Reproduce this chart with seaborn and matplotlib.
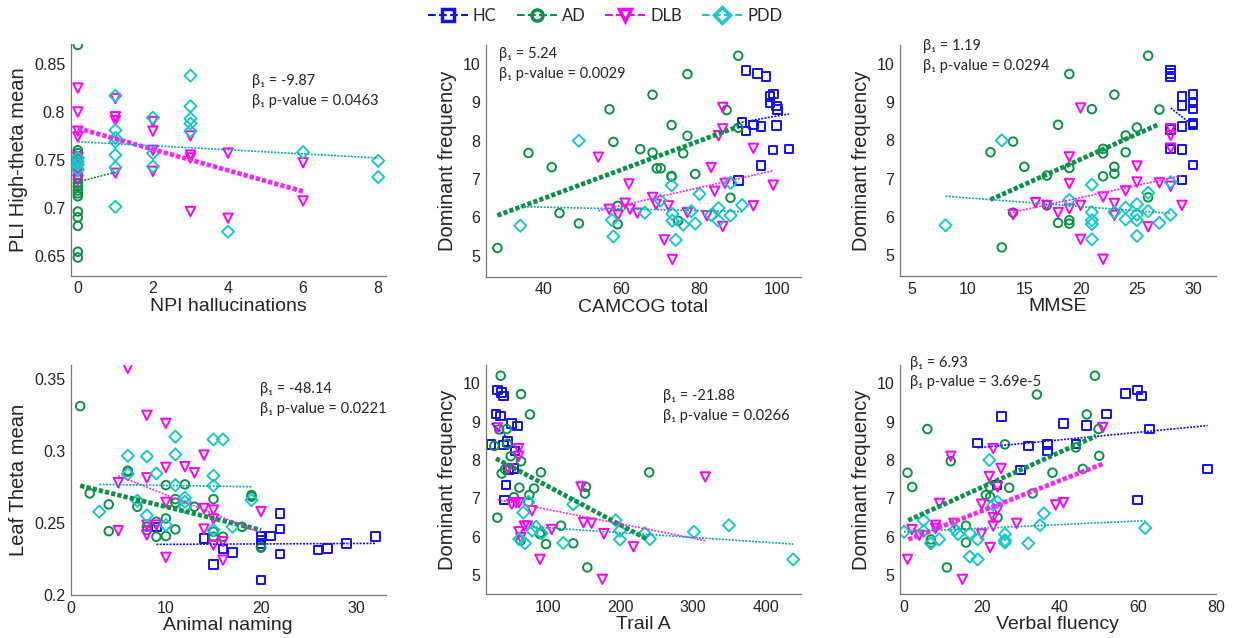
import numpy as np
import matplotlib
matplotlib.use('Agg')
import matplotlib.pyplot as plt
import seaborn as sns
from matplotlib.lines import Line2D

# groups
groups = ['HC', 'AD', 'DLB', 'PDD']
colors = {'HC': '#1010ff', 'AD': '#0a9345', 'DLB': '#ff00ff', 'PDD': '#18c8cc'}
line_colors = {'HC': '#1010ff', 'AD': '#0a9345', 'DLB': '#ff22ff', 'PDD': '#10a8a8'}
markers = {'HC': 's', 'AD': 'o', 'DLB': 'v', 'PDD': 'D'}

# ---- panel 1: NPI hallucinations vs PLI high-theta mean
npi_ad_x = [0] * 20
npi_ad_y = [0.870, 0.760, 0.757, 0.754, 0.750, 0.746, 0.742, 0.738, 0.734, 0.730,
            0.726, 0.722, 0.718, 0.715, 0.712, 0.696, 0.690, 0.681, 0.654, 0.648]
npi_dlb_x = [0, 0, 0, 0, 0, 0, 0, 1, 1, 1, 1, 2, 2, 2, 2, 3, 3, 3, 3, 4, 4, 6, 6]
npi_dlb_y = [0.825, 0.800, 0.780, 0.774, 0.753, 0.740, 0.729, 0.814, 0.795, 0.791, 0.736,
             0.790, 0.780, 0.760, 0.738, 0.775, 0.755, 0.752, 0.696, 0.757, 0.689, 0.747, 0.707]
npi_pdd_x = [0, 0, 0, 0, 1, 1, 1, 1, 1, 1, 1, 2, 2, 2, 3, 3, 3, 3, 3, 4, 6, 8, 8]
npi_pdd_y = [0.752, 0.748, 0.745, 0.740, 0.817, 0.781, 0.773, 0.769, 0.755, 0.742, 0.701,
             0.794, 0.757, 0.743, 0.838, 0.806, 0.793, 0.788, 0.780, 0.675, 0.758, 0.749, 0.732]
# fit lines: x0, x1, y0, y1
npi_fit = {'AD': [0, 1, 0.727, 0.737], 'DLB': [0, 6, 0.783, 0.717], 'PDD': [0, 8, 0.769, 0.752]}
npi_thick = 'DLB'

# ---- panel 2: CAMCOG total vs dominant frequency
cam_hc_x = [92.1, 95.0, 97.2, 98.3, 99.2, 98.3, 100.0, 100.2, 91.1, 92.1, 94.0, 96.0, 100.0, 99.1, 103.2, 96.0, 90.1]
cam_hc_y = [9.83, 9.76, 9.68, 9.15, 9.22, 8.98, 8.91, 8.82, 8.47, 8.26, 8.41, 8.37, 8.40, 7.76, 7.78, 7.36, 6.96]
cam_ad_x = [90.1, 77.0, 68.0, 56.9, 87.1, 72.9, 90.1, 57.9, 77.0, 36.0, 64.8, 68.0, 75.9, 42.0, 69.1, 70.1,
            72.9, 72.9, 79.0, 88.1, 59.0, 44.0, 49.0, 59.0, 74.6, 28.0]
cam_ad_y = [10.22, 9.74, 9.20, 8.82, 8.80, 8.41, 8.34, 7.97, 8.13, 7.68, 7.78, 7.69, 7.67, 7.31, 7.28, 7.28,
            7.08, 7.06, 7.13, 6.51, 6.30, 6.11, 5.84, 5.82, 5.91, 5.20]
cam_dlb_x = [86.1, 86.1, 85.0, 94.0, 54.0, 83.1, 61.9, 86.7, 84.0, 68.0, 68.9, 72.1, 60.9, 62.2, 56.8, 59.1,
             64.1, 77.0, 82.0, 94.0, 99.1, 86.1, 71.0, 73.1]
cam_dlb_y = [8.87, 8.31, 8.13, 7.80, 7.57, 7.30, 6.87, 6.89, 6.68, 6.52, 6.34, 6.30, 6.37, 6.21, 6.21, 6.06,
             6.11, 6.12, 6.04, 6.30, 6.84, 5.76, 5.41, 4.90]
cam_pdd_x = [49.0, 72.9, 88.1, 70.0, 80.1, 66.0, 57.5, 57.9, 73.1, 73.1, 75.9, 78.0, 79.0, 83.1, 85.0, 85.0,
             88.1, 91.1, 74.0, 33.9]
cam_pdd_y = [8.00, 6.84, 6.90, 6.44, 6.61, 6.12, 5.93, 5.50, 6.09, 5.91, 5.81, 6.16, 5.84, 6.06, 6.24, 5.91,
             6.05, 6.32, 5.41, 5.78]
cam_fit = {'HC': [90.1, 103.2, 8.47, 8.70], 'AD': [28.0, 90.1, 6.05, 8.37],
           'DLB': [54.0, 99.1, 6.17, 7.22], 'PDD': [33.9, 91.1, 6.28, 6.15]}
cam_thick = 'AD'

# ---- panel 3: MMSE vs dominant frequency
mmse_hc_x = [28, 28, 28, 29, 29, 30, 30, 30, 29, 30, 30, 28, 28, 29, 30, 29]
mmse_hc_y = [9.85, 9.76, 9.68, 9.15, 8.91, 9.22, 8.98, 8.82, 8.37, 8.46, 8.40, 8.28, 7.78, 7.76, 7.36, 6.96]
mmse_ad_x = [26, 19, 23, 21, 27, 18, 25, 14, 24, 12, 22, 22, 24, 15, 19, 23, 23, 17, 22, 26, 17, 14, 18, 19, 19, 13]
mmse_ad_y = [10.22, 9.74, 9.20, 8.82, 8.81, 8.41, 8.34, 7.97, 8.13, 7.69, 7.78, 7.66, 7.69, 7.31, 7.28, 7.31,
             7.13, 7.08, 7.06, 6.51, 6.30, 6.11, 5.84, 5.91, 5.82, 5.20]
mmse_dlb_x = [20, 28, 28, 28, 19, 25, 19, 27, 28, 24, 25, 22, 23, 17, 16, 20, 19, 18, 14, 23, 29, 26, 20, 22]
mmse_dlb_y = [8.85, 8.31, 8.13, 7.80, 7.57, 7.33, 6.87, 6.89, 6.80, 6.68, 6.91, 6.52, 6.35, 6.30, 6.37, 6.30,
              6.21, 6.11, 6.06, 6.04, 6.30, 5.74, 5.41, 4.89]
mmse_pdd_x = [13, 21, 28, 19, 26, 21, 21, 21, 25, 25, 25, 24, 24, 23, 26, 27, 28, 25, 21, 8]
mmse_pdd_y = [8.00, 6.84, 6.91, 6.44, 6.63, 6.12, 5.91, 5.81, 6.33, 6.06, 5.91, 6.24, 5.93, 6.12, 6.15, 5.84,
              6.05, 5.50, 5.41, 5.78]
mmse_fit = {'HC': [28, 29.7, 8.85, 8.46], 'AD': [12, 27, 6.45, 8.43],
            'DLB': [14, 29, 6.12, 7.08], 'PDD': [8, 28, 6.54, 6.09]}
mmse_thick = 'AD'

# ---- panel 4: Animal naming vs leaf theta mean
an_hc_x = [9, 14, 15, 16, 17, 20, 20, 20, 20, 21, 22, 22, 22, 26, 27, 29, 32]
an_hc_y = [0.2473, 0.2390, 0.2212, 0.2318, 0.2296, 0.2404, 0.2380, 0.2358, 0.2104, 0.2409, 0.2566,
           0.2457, 0.2284, 0.2312, 0.2323, 0.2358, 0.2404]
an_ad_x = [1, 2, 4, 4, 6, 6, 7, 8, 8, 9, 9, 10, 10, 10, 11, 11, 11, 12, 13, 15, 15, 15, 16, 18, 19, 19, 20, 20]
an_ad_y = [0.331, 0.2705, 0.2628, 0.2443, 0.2862, 0.2855, 0.2612, 0.2473, 0.2450, 0.2508, 0.2404, 0.2762,
           0.2531, 0.2409, 0.2665, 0.2640, 0.2455, 0.2767, 0.2612, 0.2665, 0.2439, 0.2404, 0.2404, 0.2473,
           0.2693, 0.2682, 0.2335, 0.2328]
an_dlb_x = [6, 8, 10, 14, 10, 12, 13, 8, 5, 10, 14, 15, 20, 15, 8, 9, 5, 14, 8, 15, 16, 10, 16]
an_dlb_y = [0.3572, 0.3246, 0.3190, 0.2970, 0.2885, 0.2890, 0.2848, 0.2813, 0.2779, 0.2642, 0.2600, 0.2589,
            0.2578, 0.2527, 0.2485, 0.2485, 0.2446, 0.2457, 0.2416, 0.2346, 0.2370, 0.2261, 0.2242]
an_pdd_x = [6, 8, 11, 11, 15, 16, 9, 6, 15, 11, 15, 12, 12, 12, 7, 3, 8, 19, 17, 10, 15]
an_pdd_y = [0.2966, 0.2961, 0.3098, 0.2975, 0.3079, 0.3079, 0.2843, 0.2839, 0.2827, 0.2762, 0.2758, 0.2675,
            0.2647, 0.2612, 0.2654, 0.2578, 0.2552, 0.2658, 0.2473, 0.2485, 0.2450]
an_fit = {'HC': [9, 32.1, 0.2351, 0.2358], 'AD': [1, 20, 0.2758, 0.2450],
          'DLB': [5, 20, 0.2827, 0.2432], 'PDD': [3, 19, 0.2767, 0.2751]}
an_thick = 'AD'

# ---- panel 5: Trail A vs dominant frequency
tr_hc_x = [30.9, 36.8, 39.1, 29.1, 35.5, 50.6, 58.4, 22.2, 39.1, 45.1, 55.1, 46.0, 53.8, 42.8, 40.5]
tr_hc_y = [9.83, 9.76, 9.67, 9.20, 9.15, 8.96, 8.89, 8.41, 8.39, 8.48, 8.24, 7.74, 7.78, 7.35, 6.96]
tr_ad_x = [35.5, 63.4, 75.7, 26.8, 43.7, 33.4, 44.6, 49.2, 63.4, 36.8, 41.4, 90.8, 239.6, 61.1, 81.2, 152.6,
           151.2, 74.8, 53.8, 73.5, 30.9, 118.3, 90.4, 89.5, 97.7, 62.9, 135.2, 154.5]
tr_ad_y = [10.20, 9.72, 9.19, 8.37, 8.81, 8.80, 8.42, 8.10, 7.97, 7.65, 7.76, 7.68, 7.68, 7.28, 7.26, 7.30,
           7.13, 7.09, 7.03, 6.91, 6.50, 6.29, 6.11, 6.07, 5.81, 5.90, 5.83, 5.20]
tr_dlb_x = [30.9, 60.2, 60.2, 46.0, 316.5, 145.8, 50.6, 56.5, 60.6, 78.5, 68.0, 72.1, 149.2, 160.3, 60.6,
            62.9, 105.5, 177.3, 217.8, 89.5, 175.1]
tr_dlb_y = [8.84, 8.30, 8.10, 7.78, 7.56, 7.30, 6.85, 6.89, 6.89, 6.68, 6.28, 6.28, 6.37, 6.35, 6.13,
            5.98, 6.19, 6.08, 5.74, 5.41, 4.89]
tr_pdd_x = [66.6, 73.5, 135.2, 193.4, 199.3, 199.3, 68.9, 79.0, 84.1, 91.8, 121.5, 233.6, 240.5, 300.9,
            349.0, 437.3, 61.1]
tr_pdd_y = [6.63, 6.91, 6.85, 6.43, 6.16, 5.93, 5.83, 6.16, 6.26, 6.09, 5.84, 6.09, 5.94, 6.13, 6.30, 5.41, 5.94]
tr_fit = {'HC': [23.1, 48.3, 8.96, 8.52], 'AD': [29.1, 237.3, 8.04, 5.93],
          'DLB': [30.9, 316.5, 6.97, 5.90], 'PDD': [79.0, 437.3, 6.26, 5.81]}
tr_thick = 'AD'

# ---- panel 6: Verbal fluency vs dominant frequency
vf_hc_x = [52.0, 56.9, 60.0, 61.0, 25.0, 40.9, 46.9, 63.0, 18.9, 31.9, 36.9, 36.9, 44.1, 29.9, 77.9, 23.9, 60.0]
vf_hc_y = [9.20, 9.74, 9.83, 9.67, 9.13, 8.96, 8.90, 8.81, 8.45, 8.37, 8.41, 8.24, 8.42, 7.74, 7.77, 7.35, 6.96]
vf_ad_x = [49.0, 34.1, 46.9, 6.0, 49.9, 25.9, 44.1, 12.0, 50.1, 0.9, 38.1, 45.9, 2.1, 22.0, 27.0, 33.0,
           21.0, 22.1, 24.0, 15.9, 6.9, 6.9, 15.9, 11.0]
vf_ad_y = [10.20, 9.71, 9.19, 8.81, 8.81, 8.41, 8.33, 7.97, 8.11, 7.67, 7.67, 7.77, 7.30, 7.30, 7.28, 7.13,
           7.09, 7.04, 6.50, 6.29, 5.93, 5.85, 5.85, 5.20]
vf_dlb_x = [51.0, 22.9, 12.0, 24.9, 21.9, 24.0, 9.1, 19.9, 38.9, 40.9, 24.0, 22.9, 12.8, 28.9, 22.9, 8.1,
            8.1, 2.0, 3.9, 19.9, 22.1, 0.9, 15.0]
vf_dlb_y = [8.85, 8.30, 8.10, 7.78, 7.57, 7.30, 6.87, 6.85, 6.83, 6.89, 6.70, 6.50, 6.35, 6.35, 6.28, 6.30,
            6.22, 6.19, 6.04, 6.07, 5.72, 5.41, 4.89]
vf_pdd_x = [21.9, 24.0, 22.9, 35.9, 34.9, 0.0, 5.0, 5.0, 13.1, 13.9, 16.9, 25.9, 25.9, 25.9, 18.9, 9.0,
            6.9, 31.9, 16.9, 18.9, 61.9]
vf_pdd_y = [8.00, 6.91, 6.83, 6.61, 6.30, 6.13, 6.43, 6.15, 6.19, 6.07, 6.09, 6.07, 5.91, 5.85, 5.93, 5.93,
            5.83, 5.83, 5.48, 5.41, 6.23]
vf_fit = {'HC': [18.9, 77.9, 8.32, 8.90], 'AD': [1.1, 49.3, 6.43, 8.63],
          'DLB': [1.1, 51.0, 5.93, 7.90], 'PDD': [0.0, 61.9, 6.13, 6.42]}
vf_thick = ['AD', 'DLB']

# annotation texts
beta_texts = ['β₁ = -9.87\nβ₁ p-value = 0.0463', 'β₁ = 5.24\nβ₁ p-value = 0.0029',
              'β₁ = 1.19\nβ₁ p-value = 0.0294', 'β₁ = -48.14\nβ₁ p-value = 0.0221',
              'β₁ = -21.88\nβ₁ p-value = 0.0266', 'β₁ = 6.93\nβ₁ p-value = 3.69e-5']

sns.set_style('white')
plt.rcParams['font.family'] = ['Liberation Sans', 'DejaVu Sans']

W, H = 1238, 638
fig = plt.figure(figsize=(W / 100, H / 100), dpi=100)


def make_ax(x0, x1, y0, y1):
    return fig.add_axes([x0 / W, 1 - y1 / H, (x1 - x0) / W, (y1 - y0) / H])


panels = [
    dict(rect=(70.7, 385.7, 44, 275.7), xlabel='NPI hallucinations', ylabel='PLI High-theta mean',
         data={'AD': (npi_ad_x, npi_ad_y), 'DLB': (npi_dlb_x, npi_dlb_y), 'PDD': (npi_pdd_x, npi_pdd_y)},
         fit=npi_fit, thick=[npi_thick], xlim=(-0.19, 8.2), ylim=(0.629, 0.871),
         xticks=[0, 2, 4, 6, 8], yticks=[0.65, 0.7, 0.75, 0.8, 0.85],
         yfmt=['0.65', '0.7', '0.75', '0.8', '0.85'], txt=(0.575, 0.87, 'left')),
    dict(rect=(486, 800.7, 45, 276.7), xlabel='CAMCOG total', ylabel='Dominant frequency',
         data={'HC': (cam_hc_x, cam_hc_y), 'AD': (cam_ad_x, cam_ad_y), 'DLB': (cam_dlb_x, cam_dlb_y),
               'PDD': (cam_pdd_x, cam_pdd_y)},
         fit=cam_fit, thick=[cam_thick], xlim=(25.05, 106.2), ylim=(4.45, 10.5),
         xticks=[40, 60, 80, 100], yticks=[5, 6, 7, 8, 9, 10], yfmt=None, txt=(0.04, 0.99, 'left')),
    dict(rect=(900, 1215.7, 45, 276), xlabel='MMSE', ylabel='Dominant frequency',
         data={'HC': (mmse_hc_x, mmse_hc_y), 'AD': (mmse_ad_x, mmse_ad_y), 'DLB': (mmse_dlb_x, mmse_dlb_y),
               'PDD': (mmse_pdd_x, mmse_pdd_y)},
         fit=mmse_fit, thick=[mmse_thick], xlim=(3.96, 32.0), ylim=(4.45, 10.5),
         xticks=[5, 10, 15, 20, 25, 30], yticks=[5, 6, 7, 8, 9, 10], yfmt=None, txt=(0.072, 1.025, 'left')),
    dict(rect=(70.7, 385.7, 365, 595), xlabel='Animal naming', ylabel='Leaf Theta mean',
         data={'HC': (an_hc_x, an_hc_y), 'AD': (an_ad_x, an_ad_y), 'DLB': (an_dlb_x, an_dlb_y),
               'PDD': (an_pdd_x, an_pdd_y)},
         fit=an_fit, thick=[an_thick], xlim=(0, 33.1), ylim=(0.2, 0.3595),
         xticks=[0, 10, 20, 30], yticks=[0.2, 0.25, 0.3, 0.35],
         yfmt=['0.2', '0.25', '0.3', '0.35'], txt=(0.60, 0.925, 'left')),
    dict(rect=(486, 800.7, 365, 594.3), xlabel='Trail A', ylabel='Dominant frequency',
         data={'HC': (tr_hc_x, tr_hc_y), 'AD': (tr_ad_x, tr_ad_y), 'DLB': (tr_dlb_x, tr_dlb_y),
               'PDD': (tr_pdd_x, tr_pdd_y)},
         fit=tr_fit, thick=[tr_thick], xlim=(15.3, 447.6), ylim=(4.5, 10.48),
         xticks=[100, 200, 300, 400], yticks=[5, 6, 7, 8, 9, 10], yfmt=None, txt=(0.564, 0.895, 'left')),
    dict(rect=(900, 1215.7, 365, 594.3), xlabel='Verbal fluency', ylabel='Dominant frequency',
         data={'HC': (vf_hc_x, vf_hc_y), 'AD': (vf_ad_x, vf_ad_y), 'DLB': (vf_dlb_x, vf_dlb_y),
               'PDD': (vf_pdd_x, vf_pdd_y)},
         fit=vf_fit, thick=vf_thick, xlim=(-1.03, 80), ylim=(4.5, 10.48),
         xticks=[0, 20, 40, 60, 80], yticks=[5, 6, 7, 8, 9, 10], yfmt=None, txt=(0.032, 1.04, 'left')),
]

for i, p in enumerate(panels):
    ax = make_ax(*p['rect'])
    for g in groups:
        if g not in p['data']:
            continue
        x, y = p['data'][g]
        sns.scatterplot(x=x, y=y, ax=ax, marker=markers[g], s=38 if g != 'DLB' else 46,
                        color=colors[g], facecolor='none', edgecolor=colors[g], linewidth=1.4,
                        zorder=2)
    for g in groups:
        if g not in p['fit']:
            continue
        x0, x1, y0, y1 = p['fit'][g]
        thick = g in p['thick']
        ax.plot([x0, x1], [y0, y1], color=line_colors[g],
                linestyle=(0, (0.9, 0.45)) if thick else (0, (1.2, 0.8)),
                linewidth=3.4 if thick else 1.2, zorder=3)
    ax.set_xlim(*p['xlim'])
    ax.set_ylim(*p['ylim'])
    ax.set_xticks(p['xticks'])
    ax.set_yticks(p['yticks'])
    if p['yfmt']:
        ax.set_yticklabels(p['yfmt'])
    ax.tick_params(direction='in', length=3, width=0.8, labelsize=11.5, color='#555555', pad=4)
    sns.despine(ax=ax)
    for s in ['left', 'bottom']:
        ax.spines[s].set_color('#777777')
        ax.spines[s].set_linewidth(0.9)
    ax.set_xlabel(p['xlabel'], fontsize=14, labelpad=1)
    ax.set_ylabel(p['ylabel'], fontsize=14.5, labelpad=4)
    tx, ty, ha = p['txt']
    ax.text(tx, ty, beta_texts[i], transform=ax.transAxes, ha=ha, va='top', fontsize=10.5,
            linespacing=1.5, family=['Lato', 'DejaVu Sans'])

handles = [Line2D([], [], linestyle='--', color=colors[g], marker=markers[g], markersize=8,
                  markerfacecolor='none', markeredgewidth=2.5, linewidth=1.5) for g in groups]
fig.legend(handles, groups, loc='center', bbox_to_anchor=(605 / W, 1 - 16 / H), ncol=4, frameon=False,
           handlelength=2.4, columnspacing=1.2, handletextpad=0.3, prop={'family': 'Lato', 'size': 12})

fig.savefig('out.png', dpi=100)
